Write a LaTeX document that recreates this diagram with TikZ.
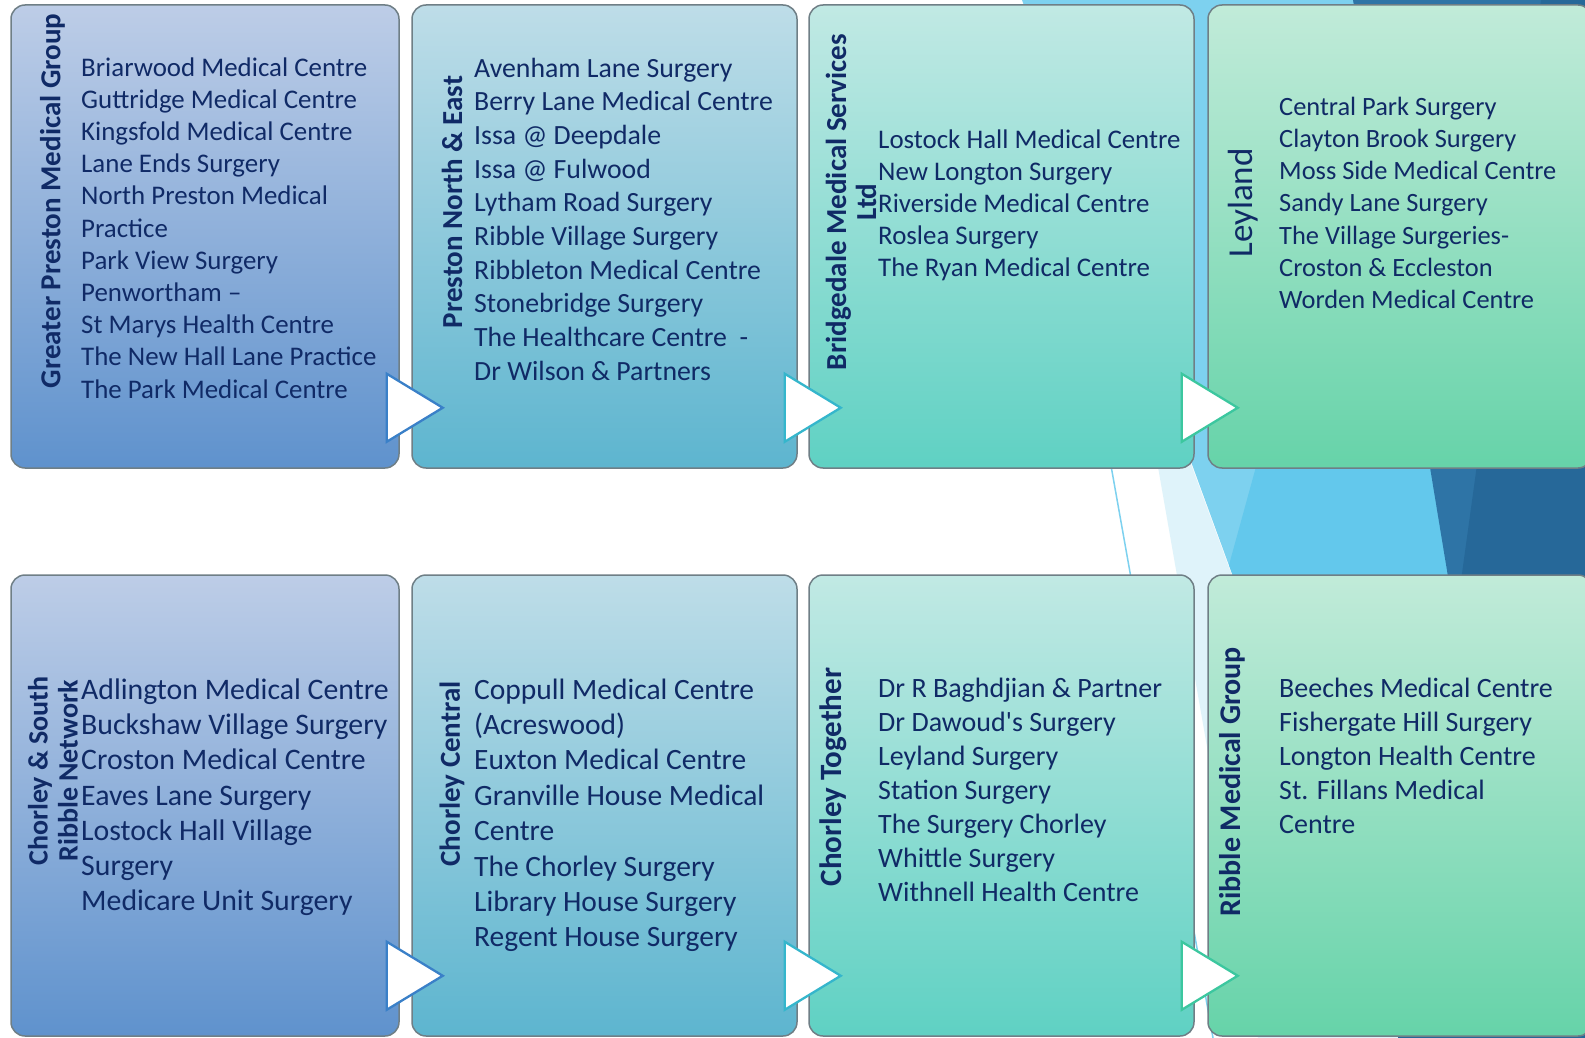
\documentclass[tikz,border=0pt]{standalone}
\usepackage{fontspec}
\setmainfont{Carlito}
\usetikzlibrary{calc}

\definecolor{navy}{HTML}{102A66}
\definecolor{boxline}{HTML}{6F7F86}
\definecolor{colAtop}{HTML}{BDCDE7}
\definecolor{colAbot}{HTML}{5F92CD}
\definecolor{colBtop}{HTML}{BEDDE8}
\definecolor{colBbot}{HTML}{5DB5CF}
\definecolor{colCtop}{HTML}{C1E9E4}
\definecolor{colCbot}{HTML}{5FD1C3}
\definecolor{colDtop}{HTML}{C1EBD9}
\definecolor{colDbot}{HTML}{66D3A9}
\definecolor{ptrA}{HTML}{3A80C8}
\definecolor{ptrB}{HTML}{35B6CC}
\definecolor{ptrC}{HTML}{3CC79F}
\definecolor{facetPale}{HTML}{DFF3FA}
\definecolor{facetLight}{HTML}{7DD1EF}
\definecolor{facetMid}{HTML}{63C8EC}
\definecolor{facetDark}{HTML}{2E74A6}
\definecolor{facetDeep}{HTML}{266899}

\begin{document}
\begin{tikzpicture}[
    x=1pt, y=-1pt,
    groupbox/.style={draw=boxline, line width=1.5pt, rounded corners=14pt, inner sep=0pt, minimum width=#1},
    pointer/.style={fill=white, line width=2.3pt, line join=miter},
    heading/.style={rotate=90, inner sep=0pt, align=center, text=navy, font=\bfseries\fontsize{29}{30}\selectfont},
    practices/.style={anchor=north west, inner sep=0pt, align=left, text=navy}
]

    % --- 1. Canvas and background facets ---
    \useasboundingbox (0,0) rectangle (1585,1038);
    \clip (0,0) rectangle (1585,1038);
    \fill[white] (0,0) rectangle (1585,1038);

    \fill[facetPale] (1127,290) -- (1258,1038) -- (1402,1038) -- cycle;
    \fill[facetLight] (1022,0) -- (1402,1038) -- (1585,1038) -- (1585,0) -- cycle;
    \fill[facetMid] (1365,70) -- (1229,565) -- (1402,1038) -- (1524,1038) -- cycle;
    \fill[facetDark] (1353,0) -- (1524,1038) -- (1585,1038) -- (1585,0) -- cycle;
    \fill[facetDeep] (1541,0) -- (1398,1038) -- (1585,1038) -- (1585,0) -- cycle;
    \draw[facetLight, line width=1.5pt] (1028,0) -- (1213,1038);

    % --- 2. Group boxes (top row: Preston, bottom row: Chorley) ---
    \node[groupbox=388pt, minimum height=463pt, top color=colAtop, bottom color=colAbot] (gpmg) at (205,236.5) {};
    \node[groupbox=385pt, minimum height=463pt, top color=colBtop, bottom color=colBbot] (pne) at (604.5,236.5) {};
    \node[groupbox=385pt, minimum height=463pt, top color=colCtop, bottom color=colCbot] (bms) at (1001.5,236.5) {};
    \node[groupbox=384pt, minimum height=463pt, top color=colDtop, bottom color=colDbot] (ley) at (1400,236.5) {};

    \node[groupbox=388pt, minimum height=461pt, top color=colAtop, bottom color=colAbot] (csr) at (205,805.5) {};
    \node[groupbox=385pt, minimum height=461pt, top color=colBtop, bottom color=colBbot] (cc) at (604.5,805.5) {};
    \node[groupbox=385pt, minimum height=461pt, top color=colCtop, bottom color=colCbot] (ct) at (1001.5,805.5) {};
    \node[groupbox=384pt, minimum height=461pt, top color=colDtop, bottom color=colDbot] (rmg) at (1400,805.5) {};

    % --- 3. White pointers on the right edge of each box ---
    % #1: box name, #2: outline colour
    \newcommand{\drawPointer}[2]{
        \draw[pointer, draw=#2] ($(#1.south east)+(-13,-95)$) -- ++(0,68)
            -- ($(#1.south east)+(43,-61)$) -- cycle;
    }
    \drawPointer{gpmg}{ptrA}
    \drawPointer{pne}{ptrB}
    \drawPointer{bms}{ptrC}
    \drawPointer{csr}{ptrA}
    \drawPointer{cc}{ptrB}
    \drawPointer{ct}{ptrC}

    % --- 4. Headings (rotated) ---
    \node[heading] (gpmg-title) at (52.6,201) {Greater Preston Medical Group};
    \node[heading] (pne-title) at (452,202) {Preston North \& East};
    \node[heading] (bms-title) at (851,202) {Bridgedale Medical Services\\Ltd};
    \node[heading, font=\fontsize{35}{36}\selectfont] (ley-title) at (1243,203) {Leyland};

    \node[heading, font=\bfseries\fontsize{28}{30}\selectfont] (csr-title) at (53,771) {Chorley \& South\\Ribble Network};
    \node[heading] (cc-title) at (452,774) {Chorley Central};
    \node[heading, font=\bfseries\fontsize{31}{32}\selectfont] (ct-title) at (833,777) {Chorley Together};
    \node[heading, font=\bfseries\fontsize{30}{32}\selectfont] (rmg-title) at (1232,782) {Ribble Medical Group};

    % --- 5. Practice lists ---
    \node[practices, font=\fontsize{26.9}{32.2}\selectfont] (gpmg-list) at (81,57.3) {%
        Briarwood Medical Centre\\Guttridge Medical Centre\\Kingsfold Medical Centre\\
        Lane Ends Surgery\\North Preston Medical\\Practice\\Park View Surgery\\
        Penwortham --\\St Marys Health Centre\\The New Hall Lane Practice\\
        The Park Medical Centre};
    \node[practices, font=\fontsize{27.8}{33.7}\selectfont] (pne-list) at (474,57.5) {%
        Avenham Lane Surgery\\Berry Lane Medical Centre\\Issa @ Deepdale\\
        Issa @ Fulwood\\Lytham Road Surgery\\Ribble Village Surgery\\
        Ribbleton Medical Centre\\Stonebridge Surgery\\The Healthcare Centre~ -\\
        Dr Wilson \& Partners};
    \node[practices, font=\fontsize{26.9}{32.1}\selectfont] (bms-list) at (878,129.2) {%
        Lostock Hall Medical Centre\\New Longton Surgery\\Riverside Medical Centre\\
        Roslea Surgery\\The Ryan Medical Centre};
    \node[practices, font=\fontsize{26.4}{32.2}\selectfont] (ley-list) at (1279,96.8) {%
        Central Park Surgery\\Clayton Brook Surgery\\Moss Side Medical Centre\\
        Sandy Lane Surgery\\The Village Surgeries-\\Croston \& Eccleston\\
        Worden Medical Centre};

    \node[practices, font=\fontsize{29.8}{35.2}\selectfont] (csr-list) at (81,678.5) {%
        Adlington Medical Centre\\Buckshaw Village Surgery\\Croston Medical Centre\\
        Eaves Lane Surgery\\Lostock Hall Village\\Surgery\\Medicare Unit Surgery};
    \node[practices, font=\fontsize{29.5}{35.4}\selectfont] (cc-list) at (474,678.5) {%
        Coppull Medical Centre\\(Acreswood)\\Euxton Medical Centre\\
        Granville House Medical\\Centre\\The Chorley Surgery\\
        Library House Surgery\\Regent House Surgery};
    \node[practices, font=\fontsize{28}{33.9}\selectfont] (ct-list) at (878,678) {%
        Dr R Baghdjian \& Partner\\Dr Dawoud\textquotesingle s Surgery\\Leyland Surgery\\
        Station Surgery\\The Surgery Chorley\\Whittle Surgery\\Withnell Health Centre};
    \node[practices, font=\fontsize{28}{33.9}\selectfont] (rmg-list) at (1279,678) {%
        Beeches Medical Centre\\Fishergate Hill Surgery\\Longton Health Centre\\
        St. Fillans Medical\\Centre};

\end{tikzpicture}
\end{document}
